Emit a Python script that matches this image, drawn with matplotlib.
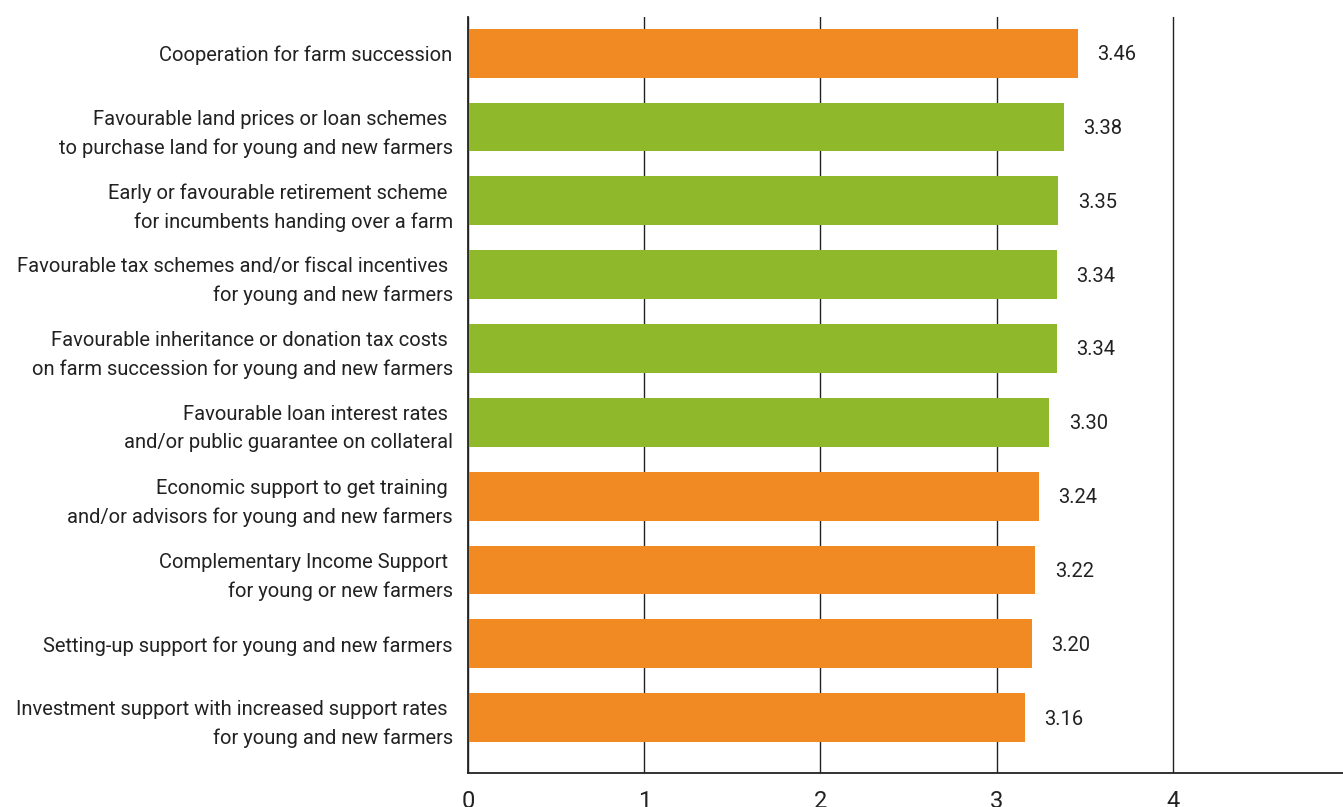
import matplotlib.pyplot as plt

plt.rcParams['font.family'] = ['Roboto', 'DejaVu Sans']

# survey items, top to bottom
measures = [
    "Cooperation for farm succession",
    "Favourable land prices or loan schemes \nto purchase land for young and new farmers",
    "Early or favourable retirement scheme \nfor incumbents handing over a farm",
    "Favourable tax schemes and/or fiscal incentives \nfor young and new farmers",
    "Favourable inheritance or donation tax costs \non farm succession for young and new farmers",
    "Favourable loan interest rates \nand/or public guarantee on collateral",
    "Economic support to get training \nand/or advisors for young and new farmers",
    "Complementary Income Support \nfor young or new farmers",
    "Setting-up support for young and new farmers",
    "Investment support with increased support rates \nfor young and new farmers",
]
scores = [3.46, 3.38, 3.35, 3.34, 3.34, 3.30, 3.24, 3.22, 3.20, 3.16]
groups = ["cap", "national", "national", "national", "national", "national",
          "cap", "cap", "cap", "cap"]

colours = {"cap": "#F28A24", "national": "#8FB92A"}

fig = plt.figure(figsize=(13.43, 8.07), dpi=100)
ax = fig.add_axes([468 / 1343, 1 - 773 / 807, (1349 - 468) / 1343, (773 - 17) / 807])

pos = list(range(len(measures)))
ax.barh(pos, scores, height=0.66, color=[colours[g] for g in groups], zorder=2)

for y, v in zip(pos, scores):
    ax.text(v + 0.11, y + 0.02, f"{v:.2f}", va="center", ha="left",
            fontsize=14.5, color="#222222")

ax.set_xlim(0, 5)
ax.set_ylim(9.75, -0.49)
ax.set_xticks([0, 1, 2, 3, 4, 5])
ax.set_yticks(pos)
ax.set_yticklabels(measures, fontsize=14.5, color="#222222", linespacing=1.6)
ax.tick_params(axis="y", length=0, pad=11)
ax.tick_params(axis="x", length=0, pad=12, labelsize=17, labelcolor="#222222")

ax.grid(axis="x", color="#222222", linewidth=1.0, zorder=1)
for s in ["top", "right"]:
    ax.spines[s].set_visible(False)
ax.spines["left"].set_color("#222222")
ax.spines["bottom"].set_color("#222222")
ax.spines["left"].set_linewidth(1.3)
ax.spines["bottom"].set_linewidth(1.3)
ax.spines["left"].set_zorder(3)

fig.savefig("out.png", dpi=100)
